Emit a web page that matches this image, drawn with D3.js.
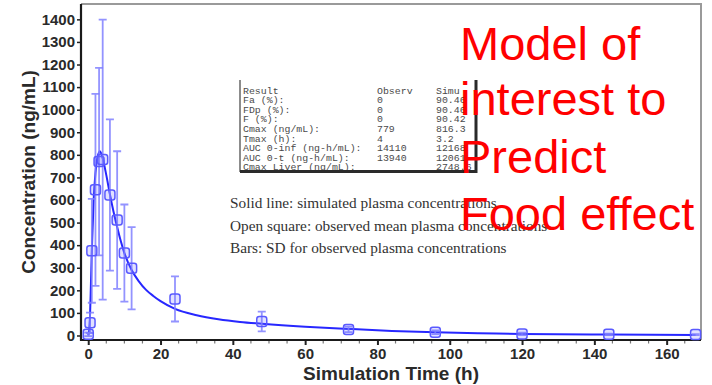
<!DOCTYPE html>
<html>
<head>
<meta charset="utf-8">
<script src="https://cdn.jsdelivr.net/npm/d3@7"></script>
<style>
  html, body { margin: 0; padding: 0; background: #fff; }
  svg { display: block; }
</style>
</head>
<body>
<svg id="chart" width="712" height="385"></svg>
<script>
// Observed mean plasma concentrations (ng/mL) and their SD
const obsTime = [0, 0.5, 1, 2, 3, 4, 6, 8, 10, 12, 24, 48, 72, 96, 120, 144, 168];
const obsMean = [5, 56, 375, 645, 770, 779, 622, 511, 365, 298, 162, 62, 27, 14, 7, 5, 4];
const obsSD   = [8, 45, 230, 425, 415, 620, 335, 305, 215, 182, 100, 44, 12, 8, 5, 3, 2];

// Simulated plasma concentration profile
const simTime = [0, 0.25, 0.5, 0.75, 1, 1.5, 2, 2.5, 3, 3.2, 3.5, 4, 5, 6, 7, 8, 9, 10, 12, 14, 16, 18, 20, 24, 30, 36, 42, 48, 60, 72, 84, 96, 108, 120, 144, 168];
const simConc = [0, 20, 90, 230, 380, 600, 720, 785, 812, 816, 810, 785, 710, 625, 548, 480, 418, 365, 290, 240, 202, 175, 152, 118, 90, 72, 60, 52, 39, 29, 20, 14, 10, 7, 4, 2];

// Axis ticks
const xTicks = [0, 20, 40, 60, 80, 100, 120, 140, 160];
const xMinorTicks = d3.range(0, 170, 5);
const yTicks = [0, 100, 200, 300, 400, 500, 600, 700, 800, 900, 1000, 1100, 1200, 1300, 1400];

// PK summary table
const tableLabels = ["Result", "Fa (%):", "FDp (%):", "F (%):", "Cmax (ng/mL):", "Tmax (h):", "AUC 0-inf (ng-h/mL):", "AUC 0-t (ng-h/mL):", "Cmax Liver (ng/mL):"];
const tableObserved = ["Observ", "0", "0", "0", "779", "4", "14110", "13940", ""];
const tableSimulated = ["Simu", "90.46", "90.46", "90.42", "816.3", "3.2", "12168", "12061", "2748.6"];

// Legend notes and callout
const notes = ["Solid line: simulated plasma concentrations",
               "Open square: observed mean plasma concentrations",
               "Bars: SD for observed plasma concentrations"];
const callout = ["Model of", "interest to", "Predict", "Food effect"];

const svg = d3.select("#chart");
const plotL = 81, plotR = 701, plotT = 4, plotB = 340;

const x = d3.scaleLinear().domain([-2, 169.5]).range([plotL, plotR]);
const y = d3.scaleLinear().domain([-20, 1468]).range([plotB, plotT]);

// Frame (top and right)
svg.append("path")
  .attr("d", `M${plotL},${plotT} H${plotR} V${plotB}`)
  .attr("fill", "none").attr("stroke", "#9a9a9a").attr("stroke-width", 2);

// Y axis
const yAxis = svg.append("g").attr("transform", `translate(${plotL},0)`)
  .call(d3.axisLeft(y).tickValues(yTicks).tickSize(4).tickPadding(2).tickFormat(d3.format("d")));
yAxis.select(".domain").remove();
yAxis.selectAll(".tick line").attr("stroke", "#222").attr("stroke-width", 1.5);
yAxis.selectAll(".tick text")
  .attr("font-family", "Liberation Sans, Arial, sans-serif")
  .attr("font-weight", "bold").attr("font-size", 15).attr("fill", "#2a2a2a");

// X axis minor ticks
svg.append("g").selectAll("line").data(xMinorTicks.filter(d => d % 20 !== 0)).join("line")
  .attr("x1", d => x(d)).attr("x2", d => x(d))
  .attr("y1", plotB).attr("y2", plotB + 3.5)
  .attr("stroke", "#777").attr("stroke-width", 1.2);

// X axis
const xAxis = svg.append("g").attr("transform", `translate(0,${plotB})`)
  .call(d3.axisBottom(x).tickValues(xTicks).tickSize(5).tickPadding(3).tickFormat(d3.format("d")));
xAxis.select(".domain").remove();
xAxis.selectAll(".tick line").attr("stroke", "#222").attr("stroke-width", 2);
xAxis.selectAll(".tick text")
  .attr("font-family", "Liberation Sans, Arial, sans-serif")
  .attr("font-weight", "bold").attr("font-size", 15).attr("fill", "#2a2a2a");

// Axis lines
svg.append("path")
  .attr("d", `M${plotL},${plotT} V${plotB} H${plotR}`)
  .attr("fill", "none").attr("stroke", "#1a1a1a").attr("stroke-width", 2.2);

// Axis titles
svg.append("text")
  .attr("transform", `translate(35,172) rotate(-90)`)
  .attr("text-anchor", "middle")
  .attr("font-family", "Liberation Sans, Arial, sans-serif")
  .attr("font-weight", "bold").attr("font-size", 19).attr("fill", "#2a2a2a")
  .text("Concentration (ng/mL)");
svg.append("text")
  .attr("x", (plotL + plotR) / 2).attr("y", 380)
  .attr("text-anchor", "middle")
  .attr("font-family", "Liberation Sans, Arial, sans-serif")
  .attr("font-weight", "bold").attr("font-size", 19).attr("fill", "#2a2a2a")
  .text("Simulation Time (h)");

// Summary table box
const tbl = svg.append("g");
const clip = svg.append("clipPath").attr("id", "tblclip");
clip.append("rect").attr("x", 240).attr("y", 78).attr("width", 233).attr("height", 92);
tbl.append("line").attr("x1", 240).attr("x2", 240).attr("y1", 80).attr("y2", 172)
  .attr("stroke", "#666").attr("stroke-width", 1.5);
tbl.append("path").attr("d", "M240,171.5 H476 V80")
  .attr("fill", "none").attr("stroke", "#2a2a2a").attr("stroke-width", 3);
const tblText = tbl.append("g").attr("clip-path", "url(#tblclip)")
  .attr("font-family", "Liberation Mono, DejaVu Sans Mono, monospace")
  .attr("font-size", 9.9).attr("fill", "#4a4a4a");
const rowY = i => 93.5 + i * 9.6;
tblText.selectAll(".lab").data(tableLabels).join("text").attr("class", "lab")
  .attr("x", 243).attr("y", (d, i) => rowY(i)).text(d => d);
tblText.selectAll(".obs").data(tableObserved).join("text").attr("class", "obs")
  .attr("x", 377).attr("y", (d, i) => rowY(i)).text(d => d);
tblText.selectAll(".sim").data(tableSimulated).join("text").attr("class", "sim")
  .attr("x", 436).attr("y", (d, i) => rowY(i)).text(d => d);

// Legend notes
svg.append("g").selectAll("text").data(notes).join("text")
  .attr("x", 230).attr("y", (d, i) => 208 + i * 22.5)
  .attr("font-family", "Liberation Serif, Times New Roman, serif")
  .attr("font-size", 15.3).attr("fill", "#333")
  .text(d => d);

// Simulated curve
const line = d3.line()
  .x((d, i) => x(simTime[i]))
  .y(d => y(d))
  .curve(d3.curveMonotoneX);
svg.append("path").datum(simConc)
  .attr("d", line)
  .attr("fill", "none").attr("stroke", "#2727ff").attr("stroke-width", 2);

// Observed data: SD bars
const obs = obsTime.map((t, i) => ({ t, m: obsMean[i], sd: obsSD[i] }));
const bars = svg.append("g").attr("stroke", "#8080ff").attr("stroke-width", 1.8).attr("fill", "none");
bars.selectAll("path").data(obs).join("path")
  .attr("d", d => {
    const cx = x(d.t), y1 = y(d.m + d.sd), y0 = y(Math.max(d.m - d.sd, -15));
    return `M${cx},${y1} V${y0} M${cx - 4},${y1} H${cx + 4} M${cx - 4},${y0} H${cx + 4}`;
  })
  .attr("opacity", 0.85);

// Observed data: open squares
svg.append("g").selectAll("rect").data(obs).join("rect")
  .attr("x", d => x(d.t) - 5).attr("y", d => y(d.m) - 5)
  .attr("width", 10).attr("height", 10).attr("rx", 2.5)
  .attr("fill", "rgba(120,120,255,0.22)")
  .attr("stroke", "#5a5aff").attr("stroke-width", 1.5);

// Callout
svg.append("g").selectAll("text").data(callout).join("text")
  .attr("x", 460).attr("y", (d, i) => [60, 115, 173, 230][i])
  .attr("font-family", "Liberation Sans, Arial, sans-serif")
  .attr("font-size", 47).attr("fill", "#ff0000")
  .text(d => d);
</script>
</body>
</html>
